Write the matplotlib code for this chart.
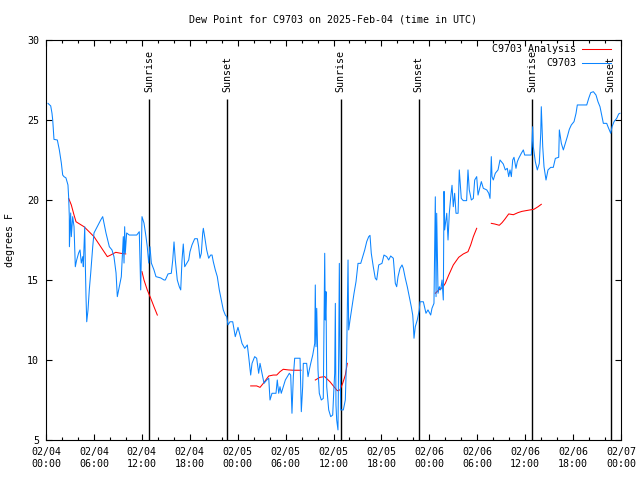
import matplotlib

matplotlib.use("Agg")

import matplotlib.dates as mdates
import matplotlib.pyplot as plt
import numpy as np
import pandas as pd

START = pd.Timestamp("2025-02-04 00:00")

# station observations: hours since START, dew point (F)
obs_hours = [
    0.25, 0.59, 0.75, 0.84, 1.0, 1.42, 1.67, 1.92, 2.09, 2.25, 2.5, 2.75, 2.84, 2.92, 2.93,
    3.09, 3.17, 3.34, 3.51, 3.67, 3.84, 4.09, 4.26, 4.42, 4.6, 4.67, 4.85, 4.92, 5.01, 5.1,
    5.26, 5.42, 5.6, 5.85, 6.01, 6.42, 6.85, 7.1, 7.26, 7.51, 7.93, 8.26, 8.51, 8.77, 8.93,
    9.18, 9.43, 9.68, 9.77, 9.85, 9.93, 10.1, 10.43, 11.36, 11.68, 11.86, 12.02, 12.27, 12.52,
    12.68, 12.86, 13.02, 13.19, 13.52, 13.77, 14.36, 14.78, 14.94, 15.28, 15.69, 15.87, 16.03,
    16.19, 16.44, 16.69, 16.87, 17.03, 17.19, 17.37, 17.62, 17.87, 18.03, 18.28, 18.62, 18.95,
    19.12, 19.28, 19.45, 19.62, 19.7, 19.87, 20.12, 20.37, 20.62, 20.79, 20.95, 21.2, 21.45,
    21.7, 21.95, 22.2, 22.45, 22.63, 22.79, 23.04, 23.38, 23.7, 24.04, 24.29, 24.54, 24.88,
    25.21, 25.38, 25.63, 25.8, 26.13, 26.38, 26.63, 26.8, 27.05, 27.3, 27.64, 27.89, 28.05,
    28.3, 28.8, 28.96, 29.14, 29.3, 29.46, 29.71, 29.97, 30.22, 30.47, 30.64, 30.8, 30.97,
    31.14, 31.81, 31.89, 31.97, 32.14, 32.22, 32.64, 32.81, 32.97, 33.15, 33.4, 33.65, 33.72,
    33.81, 33.9, 34.06, 34.22, 34.47, 34.72, 34.9, 34.97, 35.06, 35.15, 35.4, 35.65, 35.9,
    36.06, 36.15, 36.23, 36.31, 36.4, 36.56, 36.65, 36.73, 36.81, 36.9, 37.23, 37.48, 37.65,
    37.82, 37.9, 38.07, 38.32, 38.57, 38.82, 39.07, 39.41, 39.66, 39.91, 40.16, 40.41, 40.57,
    40.73, 40.98, 41.23, 41.41, 41.66, 42.07, 42.32, 42.66, 42.91, 43.16, 43.49, 43.74, 43.91,
    44.08, 44.33, 44.58, 44.74, 44.99, 45.24, 45.49, 45.74, 45.92, 45.99, 46.08, 46.24, 46.49,
    46.74, 46.83, 47.25, 47.58, 47.83, 48.17, 48.33, 48.58, 48.75, 48.84, 48.92, 49.09, 49.25,
    49.42, 49.59, 49.75, 49.84, 49.92, 50.18, 50.34, 50.5, 50.68, 50.84, 51.0, 51.17, 51.34,
    51.6, 51.75, 52.0, 52.25, 52.67, 52.84, 53.0, 53.26, 53.51, 53.68, 53.93, 54.1, 54.26,
    54.51, 54.76, 55.19, 55.44, 55.6, 55.76, 55.85, 56.01, 56.26, 56.6, 56.85, 57.26, 57.51,
    57.76, 57.94, 58.1, 58.27, 58.44, 58.6, 58.85, 59.02, 59.19, 59.52, 59.77, 59.94, 60.77,
    60.86, 60.94, 61.02, 61.27, 61.52, 61.77, 61.95, 62.02, 62.2, 62.36, 62.61, 62.86, 63.2,
    63.52, 63.78, 64.2, 64.28, 64.53, 64.78, 65.03, 65.28, 65.53, 65.78, 66.12, 66.37, 66.53,
    67.71, 67.96, 68.21, 68.54, 68.87, 69.12, 69.37, 69.54, 69.79, 70.21, 70.37, 70.71, 70.88,
    71.13, 71.46, 71.71, 71.87,
]
obs_dewpt = [
    26.04, 25.88, 25.42, 25.0, 23.79, 23.75, 23.13, 22.31, 21.56, 21.46, 21.38, 20.94, 20.13,
    18.96, 17.08, 19.19, 17.71, 18.96, 18.33, 15.83, 16.25, 16.69, 16.88, 16.06, 16.46, 15.83,
    18.33, 16.06, 13.96, 12.39, 13.13, 14.38, 15.44, 17.08, 17.94, 18.33, 18.75, 18.96, 18.56,
    17.94, 17.08, 16.88, 16.46, 15.44, 13.96, 14.58, 15.21, 17.71, 16.06, 18.33, 16.69, 17.94,
    17.81, 17.81, 18.02, 14.38, 18.96, 18.56, 17.71, 17.08, 16.06, 17.08, 16.06, 15.63, 15.21,
    15.13, 15.0, 15.0, 15.38, 15.42, 16.25, 17.38, 16.25, 15.0, 14.58, 14.38, 16.25, 17.25,
    15.83, 16.04, 16.25, 16.77, 17.19, 17.58, 17.58, 17.08, 16.36, 16.67, 17.92, 18.23, 17.71,
    16.88, 16.36, 16.56, 16.56, 16.14, 15.63, 15.21, 14.38, 13.75, 13.13, 12.81, 12.71, 12.19,
    12.39, 12.39, 11.46, 12.04, 11.56, 11.04, 10.73, 10.94, 10.21, 9.06, 9.79, 10.21, 10.11,
    9.17, 9.79, 9.17, 8.54, 8.75, 8.86, 7.5, 7.92, 7.92, 8.75, 7.92, 8.33, 7.92, 8.33, 8.75,
    8.96, 9.17, 9.06, 6.67, 8.96, 10.11, 10.11, 8.54, 6.77, 8.33, 9.79, 9.79, 8.96, 9.38,
    9.79, 10.31, 11.04, 14.69, 10.83, 13.23, 9.38, 7.92, 7.5, 7.6, 16.67, 12.5, 14.27, 8.33,
    6.88, 6.46, 6.56, 8.33, 9.17, 13.54, 7.19, 6.25, 5.63, 10.42, 16.04, 10.83, 6.88, 6.88,
    7.5, 10.42, 16.25, 11.88, 12.5, 13.33, 14.17, 14.9, 16.04, 16.04, 16.46, 16.88, 17.4,
    17.71, 17.79, 16.67, 15.83, 15.11, 15.0, 15.94, 16.04, 16.56, 16.46, 16.25, 16.5, 16.36,
    14.79, 14.58, 15.21, 15.73, 15.94, 15.73, 15.11, 14.58, 13.96, 13.33, 12.81, 12.29, 11.36,
    12.08, 12.5, 13.13, 13.64, 13.64, 12.92, 13.13, 12.81, 13.23, 13.54, 20.2, 13.96, 19.17,
    14.17, 14.58, 14.38, 15.0, 13.75, 20.54, 18.13, 19.17, 17.5, 19.17, 20.2, 20.92, 19.58,
    20.42, 19.17, 19.17, 21.88, 20.1, 19.96, 19.96, 21.88, 20.63, 20.0, 20.1, 21.25, 21.46,
    20.31, 20.63, 21.15, 20.73, 20.63, 20.42, 20.1, 22.71, 21.46, 21.25, 21.67, 21.88, 22.5,
    22.25, 21.88, 21.98, 21.46, 21.88, 21.46, 22.5, 22.67, 21.98, 22.4, 22.6, 22.92, 23.13,
    22.81, 22.81, 23.65, 24.58, 23.33, 22.4, 21.88, 22.29, 24.17, 25.83, 23.33, 22.08, 21.25,
    21.88, 22.04, 22.04, 22.6, 22.67, 24.38, 23.54, 23.13, 23.54, 23.96, 24.42, 24.69, 24.9,
    25.42, 25.94, 25.94, 26.36, 26.71, 26.77, 26.56, 26.14, 25.83, 25.42, 24.79, 24.79, 24.58,
    24.17, 24.58, 24.9, 25.1, 25.38, 25.42,
]

# analysis values, nan where the analysis is missing
ana_hours = [
    2.84, 3.17, 3.51, 3.76, 4.76, 5.17, 6.01, 6.85, 7.68, 8.1, 8.73, 9.35, 9.98, 11.0,
    12.02, 12.27, 12.68, 13.11, 13.52, 13.94, 20.0,
    25.63, 26.38, 26.8, 27.21, 27.89, 28.46, 28.89, 29.3, 29.71, 30.34, 30.97, 31.93, 32.8,
    33.72, 34.31, 34.9, 35.56, 36.06, 36.48, 36.81, 37.15, 37.48, 37.73, 43.0,
    48.75, 49.17, 49.67, 50.0, 50.43, 51.0, 51.68, 52.26, 52.84, 53.18, 53.51, 53.93, 54.8,
    55.76, 56.19, 56.76, 57.1, 57.44, 57.94, 58.52, 59.1, 59.6, 60.61, 61.1, 61.61, 62.02,
]
ana_dewpt = [
    20.1, 19.69, 19.06, 18.64, 18.33, 18.13, 17.71, 17.08, 16.46, 16.56, 16.73, 16.67, 16.63, np.nan,
    15.52, 15.0, 14.38, 13.86, 13.33, 12.81, np.nan,
    8.38, 8.38, 8.29, 8.54, 9.0, 9.06, 9.06, 9.27, 9.42, 9.38, 9.36, 9.36, np.nan,
    8.75, 8.92, 8.96, 8.64, 8.33, 8.08, 8.13, 8.54, 9.06, 9.79, np.nan,
    14.17, 14.38, 14.54, 14.79, 15.31, 15.94, 16.42, 16.63, 16.77, 17.19, 17.71, 18.23, np.nan,
    18.54, 18.5, 18.42, 18.58, 18.79, 19.13, 19.08, 19.21, 19.29, 19.38, 19.42, 19.58, 19.73,
]

sunrise_times = ["2025-02-04 12:53", "2025-02-05 12:53", "2025-02-06 12:52"]
sunset_times = ["2025-02-04 22:40", "2025-02-05 22:41", "2025-02-06 22:42"]

obs_time = START + pd.to_timedelta(obs_hours, unit="h")
ana_time = START + pd.to_timedelta(ana_hours, unit="h")

plt.rcParams["font.family"] = ["DejaVu Sans Mono"]
plt.rcParams["font.size"] = 7.2

fig = plt.figure(figsize=(6.4, 4.8), dpi=100)
ax = fig.add_axes([46 / 640, 40 / 480, 575 / 640, 400 / 480])

# sunrise / sunset markers
for label, times in (("Sunrise", sunrise_times), ("Sunset", sunset_times)):
    for t in pd.to_datetime(times):
        ax.vlines(t, 5, 26.3, color="black", lw=1.0, zorder=1)
        ax.text(t, 26.75, label, rotation=90, ha="center", va="bottom", zorder=1)

ax.plot(ana_time, ana_dewpt, color="#ff0000", lw=0.75, label="C9703 Analysis", zorder=2)
ax.plot(obs_time, obs_dewpt, color="#0a84ff", lw=0.75, label="C9703", zorder=3)

ax.set_xlim(START, START + pd.Timedelta(hours=72))
ax.set_ylim(5, 30)
ax.set_yticks(range(5, 31, 5))

ax.xaxis.set_major_locator(mdates.HourLocator(byhour=range(0, 24, 6)))
ax.xaxis.set_minor_locator(mdates.HourLocator(byhour=range(0, 24, 2)))
ax.xaxis.set_major_formatter(mdates.DateFormatter("%m/%d\n%H:%M"))

ax.tick_params(which="both", direction="in", top=True, right=True, width=0.8)
ax.tick_params(which="major", length=4.5, pad=5)
ax.tick_params(which="minor", length=2.5)
for spine in ax.spines.values():
    spine.set_linewidth(0.8)

ax.legend(
    loc="upper right",
    bbox_to_anchor=(611 / 640, 1 - 44 / 480),
    bbox_transform=fig.transFigure,
    frameon=False,
    markerfirst=False,
    handlelength=2.9,
    handletextpad=0.6,
    labelspacing=0.45,
    borderpad=0,
    borderaxespad=0,
)

fig.text(333 / 640, 1 - 19 / 480, "Dew Point for C9703 on 2025-Feb-04 (time in UTC)",
         ha="center", va="center")
fig.text(10 / 640, 0.5, "degrees F", rotation=90, ha="center", va="center")

fig.savefig("out.png", dpi=100)
